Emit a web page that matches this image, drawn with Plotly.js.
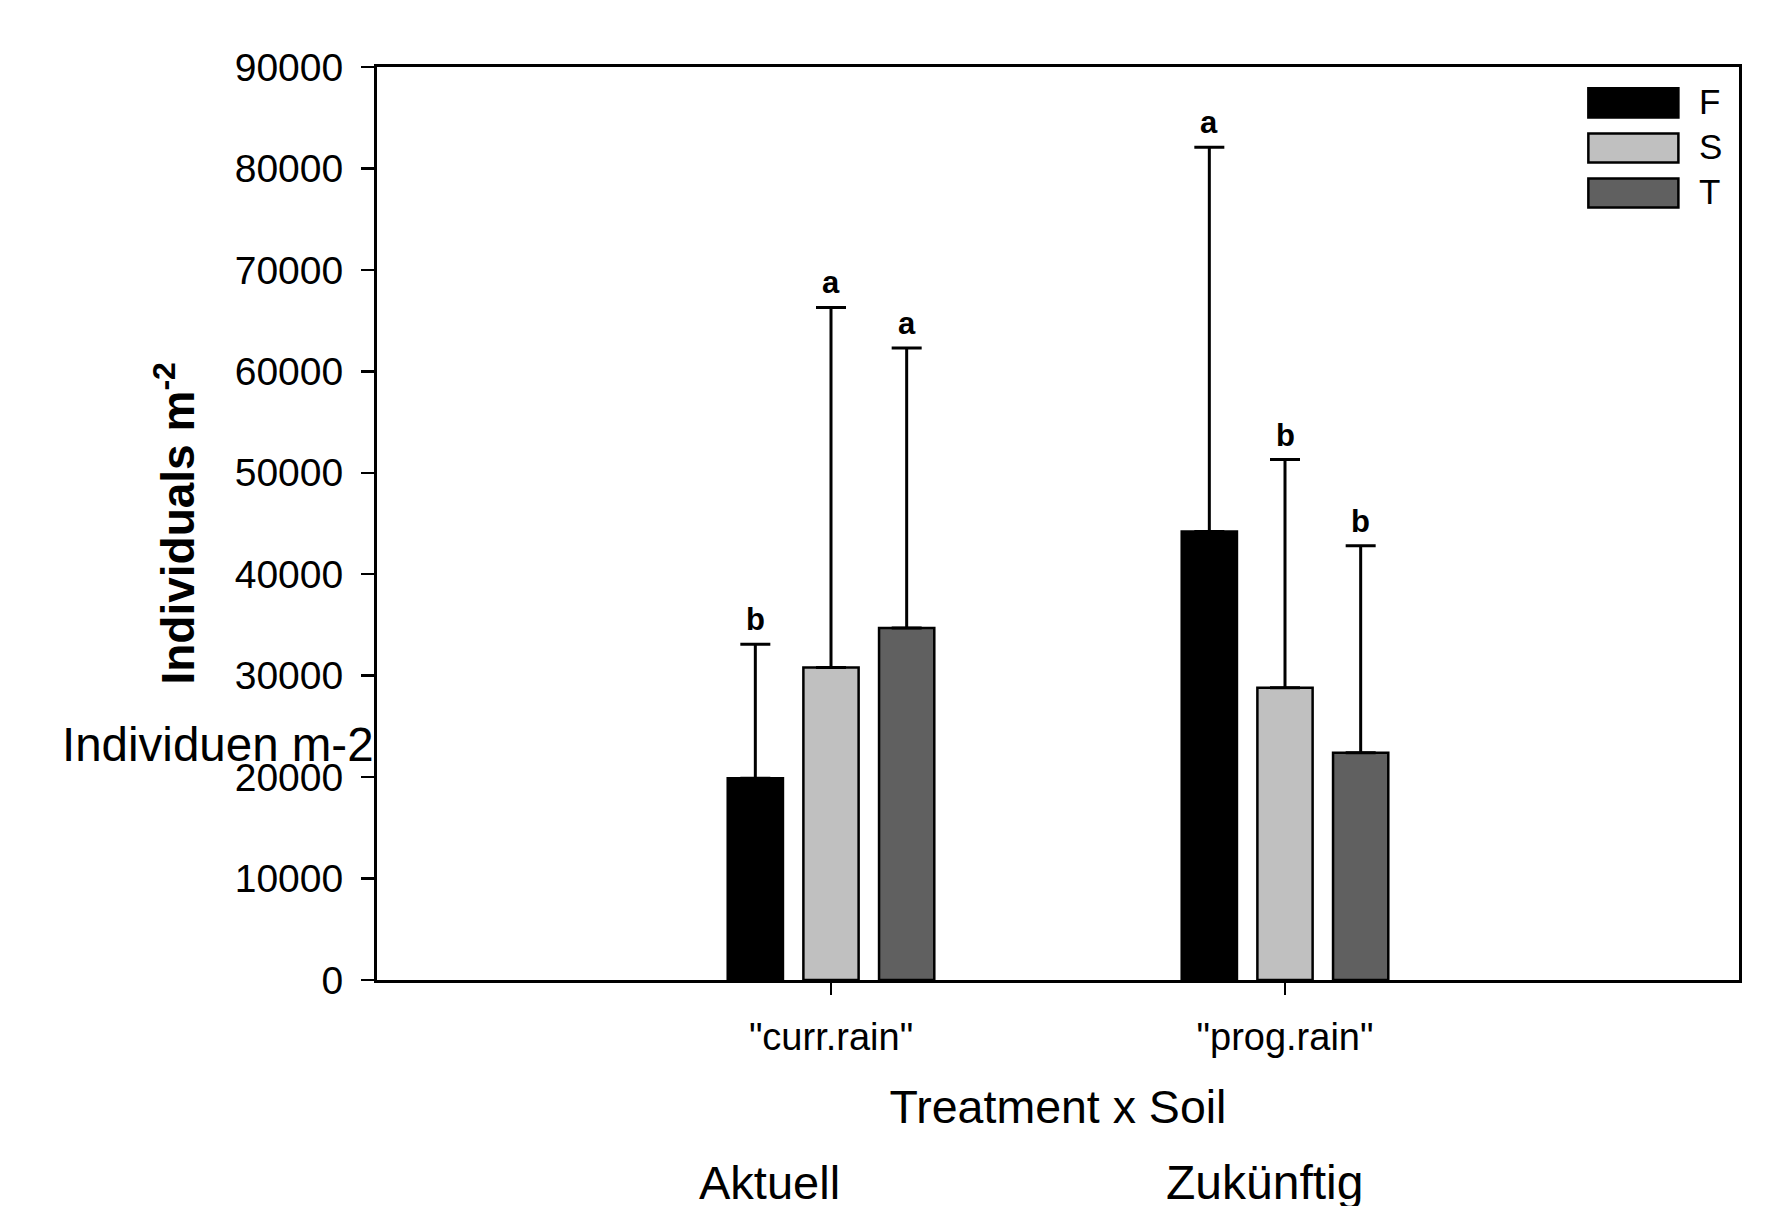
<!DOCTYPE html>
<html>
<head>
<meta charset="utf-8">
<script src="https://cdn.plot.ly/plotly-3.0.1.min.js"></script>
<style>
  html, body { margin: 0; padding: 0; background: #ffffff; }
  #chart { width: 1769px; height: 1206px; }
</style>
</head>
<body>
<div id="chart"></div>
<script>
// ---- data ----
const categories = ['"curr.rain"', '"prog.rain"'];
const seriesNames = ['F', 'S', 'T'];
const valuesF = [19900, 44200];
const valuesS = [30800, 28800];
const valuesT = [34700, 22400];
const errorF = [13200, 37900];
const errorS = [35500, 22500];
const errorT = [27600, 20400];
const lettersF = ['b', 'a'];
const lettersS = ['a', 'b'];
const lettersT = ['a', 'b'];
const yTicks = [0, 10000, 20000, 30000, 40000, 50000, 60000, 70000, 80000, 90000];
const bottomLabels = ['Aktuell', 'Zukünftig'];

// ---- styling ----
const colors = ['#000000', '#c0c0c0', '#606060'];
const values = [valuesF, valuesS, valuesT];
const errors = [errorF, errorS, errorT];
const letters = [lettersF, lettersS, lettersT];
const FONT = 'Liberation Sans, Arial, sans-serif';

const bargap = 0.5;
const slot = (1 - bargap) / seriesNames.length;

const traces = seriesNames.map((name, i) => ({
  type: 'bar',
  name: name,
  x: categories,
  y: values[i],
  marker: { color: colors[i], line: { color: '#000000', width: 2.5 } },
  error_y: {
    type: 'data',
    symmetric: false,
    array: errors[i],
    arrayminus: errors[i].map(() => 0),
    color: '#000000',
    thickness: 3,
    width: 15
  },
  showlegend: false,
  hoverinfo: 'x+y+name'
}));

const annotations = [];
// significance letters above the error caps
seriesNames.forEach((name, i) => {
  categories.forEach((cat, j) => {
    annotations.push({
      xref: 'x', yref: 'y',
      x: j + (i - 1) * slot,
      y: values[i][j] + errors[i][j],
      text: letters[i][j],
      showarrow: false,
      yanchor: 'bottom',
      yshift: 5,
      font: { family: FONT, size: 31, color: '#000000', weight: 'bold' }
    });
  });
});

// legend (drawn as swatches + labels)
const shapes = [];
const legTop = [0.9766, 0.9271, 0.8779];
const legH = 0.0318;
seriesNames.forEach((name, i) => {
  shapes.push({
    type: 'rect', xref: 'paper', yref: 'paper',
    x0: 0.8894, x1: 0.9555, y0: legTop[i] - legH, y1: legTop[i],
    fillcolor: colors[i], line: { color: '#000000', width: 2.5 }
  });
  annotations.push({
    xref: 'paper', yref: 'paper',
    x: 0.9690, y: legTop[i] - legH / 2 + 0.002,
    xanchor: 'left', yanchor: 'middle',
    text: name, showarrow: false,
    font: { family: FONT, size: 35, color: '#000000' }
  });
});

// y-axis title
annotations.push({
  xref: 'paper', yref: 'paper',
  x: -0.1490, y: 0.5, xanchor: 'center', yanchor: 'middle',
  textangle: -90,
  text: 'Individuals m<sup>-2</sup>',
  showarrow: false,
  font: { family: FONT, size: 46, color: '#000000', weight: 'bold' }
});

// overlaid German labels
annotations.push({
  xref: 'paper', yref: 'paper',
  x: -0.2325, y: 0.2576, xanchor: 'left', yanchor: 'middle',
  text: 'Individuen m-2', showarrow: false,
  font: { family: FONT, size: 47.5, color: '#000000' }
});
const bottomX = [0.288, 0.6515];
const bottomSize = [47, 48];
bottomLabels.forEach((t, k) => {
  annotations.push({
    xref: 'paper', yref: 'paper',
    x: bottomX[k], y: -0.2217, xanchor: 'center', yanchor: 'middle',
    text: t, showarrow: false,
    font: { family: FONT, size: bottomSize[k], color: '#000000' }
  });
});

const layout = {
  width: 1769,
  height: 1206,
  margin: { l: 377, r: 30, t: 67, b: 226 },
  paper_bgcolor: '#ffffff',
  plot_bgcolor: '#ffffff',
  barmode: 'group',
  bargap: bargap,
  bargroupgap: 0.27,
  showlegend: false,
  font: { family: FONT, color: '#000000' },
  xaxis: {
    type: 'category',
    range: [-1, 2],
    showgrid: false,
    zeroline: false,
    showline: true,
    linecolor: '#000000',
    linewidth: 3,
    mirror: true,
    ticks: 'outside',
    ticklen: 12,
    tickwidth: 2.5,
    tickcolor: '#000000',
    ticklabelstandoff: 9,
    tickfont: { family: FONT, size: 38, color: '#000000' },
    title: { text: 'Treatment x Soil', font: { family: FONT, size: 46.5, color: '#000000' }, standoff: 34 }
  },
  yaxis: {
    range: [0, 90000],
    tickvals: yTicks,
    tickformat: 'd',
    showgrid: false,
    zeroline: false,
    showline: true,
    linecolor: '#000000',
    linewidth: 3,
    mirror: true,
    ticks: 'outside',
    ticklen: 13,
    tickwidth: 2.5,
    tickcolor: '#000000',
    ticklabelstandoff: 10,
    tickfont: { family: FONT, size: 39, color: '#000000' }
  },
  annotations: annotations,
  shapes: shapes
};

Plotly.newPlot('chart', traces, layout, { displayModeBar: false, staticPlot: true });
</script>
</body>
</html>
